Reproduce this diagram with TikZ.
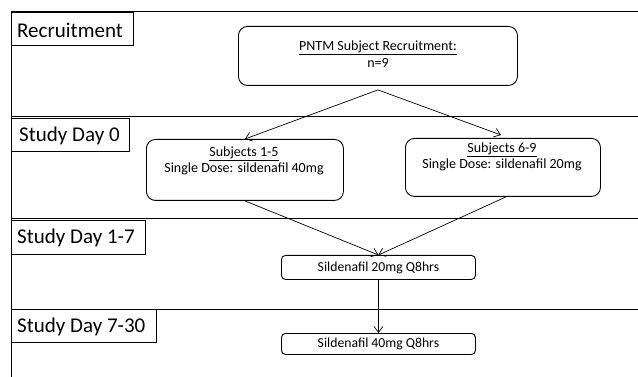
\documentclass[tikz,border=0pt]{standalone}
\usepackage{fontspec}
\setmainfont{Carlito}
\usetikzlibrary{arrows.meta}
\begin{document}
\begin{tikzpicture}[x=1pt,y=-1pt,
  lane/.style={draw,line width=1pt},
  labelbox/.style={draw,line width=0.8pt,anchor=north west,inner sep=0pt},
  labeltext/.style={anchor=west,inner sep=0pt,font=\fontsize{21}{23}\selectfont},
  bigbox/.style={draw,line width=0.9pt,rounded corners=9pt,anchor=north west,inner sep=0pt},
  boxtext/.style={align=center,inner sep=0pt,font=\fontsize{14}{16.5}\selectfont},
  smallbox/.style={draw,line width=0.9pt,rounded corners=4pt,anchor=north west,
    inner sep=0pt,align=center,font=\fontsize{13.7}{15}\selectfont},
  conn/.style={line width=0.7pt},
  arr/.style={conn,-{Straight Barb[length=6pt,width=9pt]}}]
\useasboundingbox (0,0) rectangle (638,377);
% lane frame
\draw[lane] (11,377) -- (11,12) -- (638,12);
\draw[lane] (11,117) -- (638,117);
\draw[lane] (11,219) -- (638,219);
\draw[line width=0.8pt] (11,309) -- (638,309);
% lane labels
\node[labelbox,minimum width=122pt,minimum height=33pt] (l0) at (11,12) {};
\node[labeltext] (l0t) at ([xshift=6pt,yshift=-1pt]l0.west) {Recruitment};
\node[labelbox,minimum width=118pt,minimum height=33pt] (l1) at (11,118) {};
\node[labeltext] (l1t) at ([xshift=8pt,yshift=-1pt]l1.west) {Study Day 0};
\node[labelbox,minimum width=134pt,minimum height=34pt] (l2) at (11,220) {};
\node[labeltext] (l2t) at ([xshift=6pt,yshift=-1pt]l2.west) {Study Day 1-7};
\node[labelbox,minimum width=145pt,minimum height=33pt] (l3) at (11,309) {};
\node[labeltext] (l3t) at ([xshift=6pt,yshift=-1pt]l3.west) {Study Day 7-30};
% flow boxes
\node[bigbox,minimum width=279pt,minimum height=59pt] (rec) at (238,26) {};
\node[boxtext] (rect) at (378,54) {\underline{PNTM Subject Recruitment:}\\n=9};
\node[bigbox,minimum width=197pt,minimum height=61pt] (s1) at (146,139) {};
\node[boxtext] (s1t) at (244,161) {\underline{Subjects 1-5}\\Single Dose: sildenafil 40mg};
\node[bigbox,minimum width=195pt,minimum height=58pt] (s2) at (405,138) {};
\node[boxtext] (s2t) at (502,157) {\underline{Subjects 6-9}\\Single Dose: sildenafil 20mg};
\node[smallbox,minimum width=194pt,minimum height=24pt] (d20) at (281,255) {Sildenafil 20mg Q8hrs};
\node[smallbox,minimum width=194pt,minimum height=21pt] (d40) at (281,333) {Sildenafil 40mg Q8hrs};
% connectors
\coordinate (split) at ([yshift=-4pt]rec.south);
\draw[arr] (split) -- (s1.north);
\draw[arr] (split) -- ([xshift=-2pt,yshift=3pt]s2.north);
\draw[arr] (s1.south) -- (d20.north);
\draw[arr] ([xshift=3pt]s2.south) -- (d20.north);
\draw[arr] (d20.south) -- (d40.north);
\end{tikzpicture}
\end{document}
